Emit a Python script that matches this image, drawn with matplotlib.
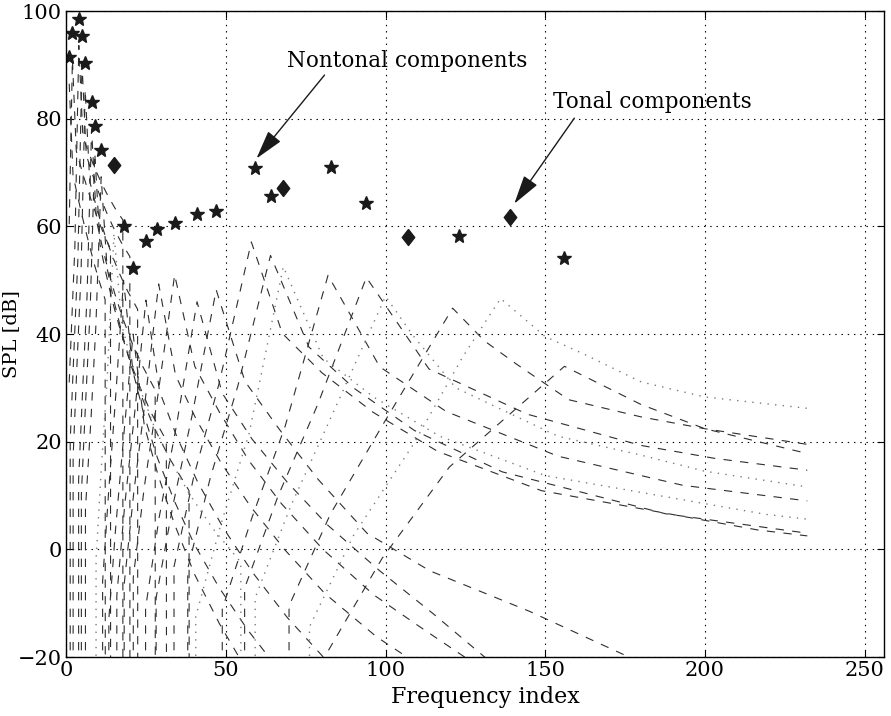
import matplotlib
matplotlib.use('Agg')
import matplotlib.pyplot as plt

# ---- markers ----
nontonal_idx = [1, 2, 4, 5, 6, 8, 9, 11, 18, 21, 25, 28.6, 34, 41, 47, 59, 64, 83, 94, 123, 156]
nontonal_spl = [91.5, 96.0, 98.6, 95.3, 90.4, 83.1, 78.6, 74.2, 60.1, 52.3, 57.3, 59.6, 60.6, 62.3,
                62.9, 70.8, 65.6, 71.0, 64.3, 58.2, 54.2]
tonal_idx = [15, 68, 107, 139]
tonal_spl = [71.4, 67.2, 58.0, 61.8]

# ---- individual masking thresholds of nontonal maskers (dashed) ----
nontonal_thr_x = [
    [1, 2.19, 3.4, 4.67, 5.97, 7.4, 8.84, 10.45, 12.24, 12.3],
    [1, 2, 3.21, 4.46, 5.76, 7.14, 8.6, 10.19, 11.93, 13.92, 13.95],
    [1, 1.57, 2.77, 4, 5.28, 6.64, 8.07, 9.6, 11.29, 13.18, 15.3, 17.78, 17.8],
    [1.31, 1.31, 2.5, 3.73, 5, 6.33, 7.75, 9.24, 10.9, 12.75, 14.8, 17.2, 19.97, 20],
    [2.22, 2.22, 3.42, 4.69, 6, 7.4, 8.87, 10.49, 12.28, 14.3, 16.6, 19.25, 22.4, 22.45],
    [3.94, 3.94, 5.22, 6.57, 8, 9.52, 11.2, 13.08, 15.2, 17.65, 20.5, 23.9, 27.9, 27.95],
    [4.8, 4.8, 6.12, 7.54, 9, 10.64, 12.45, 14.47, 16.85, 19.55, 22.8, 26.6, 31.4, 31.45],
    [6.08, 6.08, 7.84, 9.34, 11, 12.86, 14.93, 17.4, 20.16, 23.5, 27.5, 32.5, 38.5, 38.55],
    [11.45, 11.45, 13.37, 15.5, 18, 20.95, 24.4, 28.6, 33.9, 40.1, 47.8, 56.9, 67.4],
    [13.4, 13.4, 15.55, 18.06, 21, 24.5, 28.8, 34, 40.2, 48, 57.1],
    [15.9, 15.9, 18.4, 21.5, 25, 29.3, 34.7, 41.2, 49.1, 58.4, 69.3, 82.2],
    [18.2, 18.2, 21.2, 24.75, 29, 34.3, 40.7, 48.5, 57.7, 68.5, 81, 97.3, 117.9],
    [21.05, 21.05, 24.55, 28.8, 34, 40.3, 48, 57.2, 67.4, 80.4, 96.4, 111, 126],
    [24.9, 24.9, 29.2, 34.6, 41, 48.9, 58.2, 69.2, 81.9, 98.2, 115, 132],
    [28.2, 28.2, 33.4, 39.5, 47, 56, 66.5, 78.9, 94.2, 113.9, 145, 178],
    [33.8, 33.8, 40.1, 47.9, 58, 67.7, 80.1, 96, 116.3, 148.8, 216.5, 232],
    [38.1, 38.1, 45.2, 53.8, 64, 76, 90.2, 109, 136.5, 187.7, 232],
    [48.9, 48.9, 58.2, 68.6, 82, 98.2, 119, 154, 193, 232],
    [55.9, 55.9, 66.3, 78.7, 94, 113.6, 144.4, 180, 203, 232],
    [69.8, 69.8, 82.7, 99.5, 121, 131, 141, 157.3, 180, 200, 232],
    [82.2, 82.2, 98.9, 120, 135.6, 156, 180, 200, 232],
]
nontonal_thr_y = [
    [86.5, 69.5, 66.2, 62.9, 59.6, 56.3, 53.0, 49.7, 46.4, -40],
    [60.4, 91, 74, 71.4, 68.8, 66.2, 63.6, 61.0, 58.4, 55.8, -40],
    [31.0, 39.2, 56.2, 93.6, 76.6, 74.4, 72.2, 70, 67.8, 65.6, 63.4, 61.2, -40],
    [-40, 20.2, 37.2, 54.2, 90.3, 73.3, 70.6, 67.9, 65.2, 62.5, 59.8, 57.1, 54.4, -40],
    [-40, 17.2, 34.2, 51.2, 85.4, 68.4, 65, 61.6, 58.2, 54.8, 51.4, 48, 44.6, -40],
    [-40, 12.9, 29.9, 46.9, 78.1, 61.1, 56.6, 52.1, 47.6, 43.1, 38.6, 34.1, 29.6, -40],
    [-40, 10.2, 27.2, 44.2, 73.6, 56.6, 51.4, 46.2, 41, 35.8, 30.6, 25.4, 20.2, -40],
    [-40, 7.5, 24.5, 41.5, 69.2, 52.2, 46.3, 40.4, 34.5, 28.6, 22.7, 16.8, 10.9, -40],
    [-40, -6, 11, 28, 50, 33, 25, 17, 9, 1, -7, -15, -23],
    [-40, -12.9, 4.1, 21.1, 40, 23, 13.8, 4.6, -4.6, -13.8, -23],
    [-40, -8.6, 8.4, 25.4, 46.3, 29.3, 20.9, 12.5, 4.1, -4.3, -12.7, -21.1],
    [-40, -6.5, 10.5, 27.5, 49.3, 32.3, 24.2, 16.1, 8, -0.1, -8.2, -16.3, -24.4],
    [-40, -5.2, 11.8, 28.8, 51, 34, 25.5, 16.5, 8.5, 0, -8.5, -14.5, -20.5],
    [-40, -10.9, 6.1, 23.1, 46, 29, 20.5, 12.5, 4.5, -4, -12, -20.5],
    [-40, -9, 8, 25, 48.2, 31.2, 22.5, 13, 3, -4, -11.5, -20.5],
    [-40, -3.2, 13.8, 30.8, 57.1, 40.1, 32.8, 25.5, 18.2, 10.9, 3.6, 2.5],
    [-40, -3.6, 13.4, 30.4, 54.6, 37.6, 29.9, 22.1, 14.4, 6.6, 3.0],
    [-40, -11.1, 5.9, 22.9, 50.9, 33.9, 25.6, 17.3, 11.9, 9.0],
    [-40, -7.2, 9.8, 26.8, 50.5, 33.5, 25.1, 19.3, 16.9, 14.7],
    [-40, -10.5, 6.5, 23.5, 44.8, 38.7, 34.4, 27.8, 24.6, 22.4, 19.5],
    [-40, -18.7, -1.7, 15.3, 23.4, 34, 26.9, 22.4, 17.8],
]

# ---- individual masking thresholds of tonal maskers (dotted) ----
tonal_thr_x = [
    [9.4, 9.4, 11.05, 12.92, 15, 17.45, 20.25, 23.6, 27.6, 32.7, 38.7, 45.9, 54.7, 54.75],
    [40.6, 40.6, 48.4, 57.3, 68, 80.5, 96.5, 117, 150, 219, 232],
    [59.2, 59.2, 70.3, 83.3, 100, 108.5, 122, 154, 180, 200, 232],
    [76.2, 76.2, 90, 108.8, 124.2, 136, 150, 162, 180, 200, 232],
]
tonal_thr_y = [
    [-40, -1.9, 15.1, 32.1, 58.7, 41.7, 35.4, 29.1, 22.8, 16.5, 10.2, 3.9, -2.4, -40],
    [-40, -12.5, 4.5, 21.5, 52.5, 35.5, 28.2, 21.0, 13.7, 6.5, 5.6],
    [-40, -9, 8, 25, 47, 39.8, 30, 21, 17.5, 14.5, 11.6],
    [-40, -14.4, 2.6, 19.6, 35.8, 46.6, 39.5, 36.3, 31.1, 28.3, 26.2],
]

# annotation anchor points (data units)
nontonal_label_xy = (106.9, 90.8)
nontonal_arrow_tail = (80.9, 88.1)
nontonal_arrow_head = (59.6, 72.6)
tonal_label_xy = (183.4, 83.1)
tonal_arrow_tail = (159.1, 80.1)
tonal_arrow_head = (140.3, 64.2)

plt.rcParams['lines.scale_dashes'] = False
plt.rcParams['font.family'] = ['DejaVu Serif']

fig = plt.figure(figsize=(8.91, 7.16), dpi=100)
ax = fig.add_axes([0.0741, 0.0824, 0.918, 0.9022])

for xs, ys in zip(nontonal_thr_x, nontonal_thr_y):
    ax.plot(xs, ys, color='#2e2e2e', lw=0.8, dashes=(6, 6))
for xs, ys in zip(tonal_thr_x, tonal_thr_y):
    ax.plot(xs, ys, color='#7a7a7a', lw=1.0, dashes=(1, 4.5))

diamond = [(0, 1), (0.78, 0), (0, -1), (-0.78, 0), (0, 1)]
ax.plot(nontonal_idx, nontonal_spl, ls='none', marker='*', ms=10, color='#1a1a1a')
ax.plot(tonal_idx, tonal_spl, ls='none', marker=diamond, ms=11.5, color='#1a1a1a')

ax.set_xlim(0, 256)
ax.set_ylim(-20, 100)
ax.set_xticks([0, 50, 100, 150, 200, 250])
ax.set_yticks([-20, 0, 20, 40, 60, 80, 100])
ax.set_yticklabels(['\u221220', '0', '20', '40', '60', '80', '100'])
ax.tick_params(direction='in', labelsize=15, length=5, width=0.8, top=True, right=True, pad=3)
ax.grid(True, color='black', ls=(0, (1, 3.5)), lw=0.8)
for s in ax.spines.values():
    s.set_linewidth(1.0)

ax.set_xlabel('Frequency index', fontsize=16)
ax.set_ylabel('SPL [dB]', fontsize=14)
ax.xaxis.set_label_coords(0.513, -0.045)
ax.yaxis.set_label_coords(-0.056, 0.5)

ax.text(*nontonal_label_xy, 'Nontonal components', fontsize=15.5, ha='center', va='center')
ax.text(*tonal_label_xy, 'Tonal components', fontsize=15.5, ha='center', va='center')
arrow_style = dict(arrowstyle='-|>,head_length=0.9,head_width=0.25', color='#1a1a1a',
                   lw=1.0, shrinkA=0, shrinkB=0, mutation_scale=20)
ax.annotate('', xy=nontonal_arrow_head, xytext=nontonal_arrow_tail, arrowprops=arrow_style)
ax.annotate('', xy=tonal_arrow_head, xytext=tonal_arrow_tail, arrowprops=arrow_style)

fig.savefig('out.png', dpi=100)
